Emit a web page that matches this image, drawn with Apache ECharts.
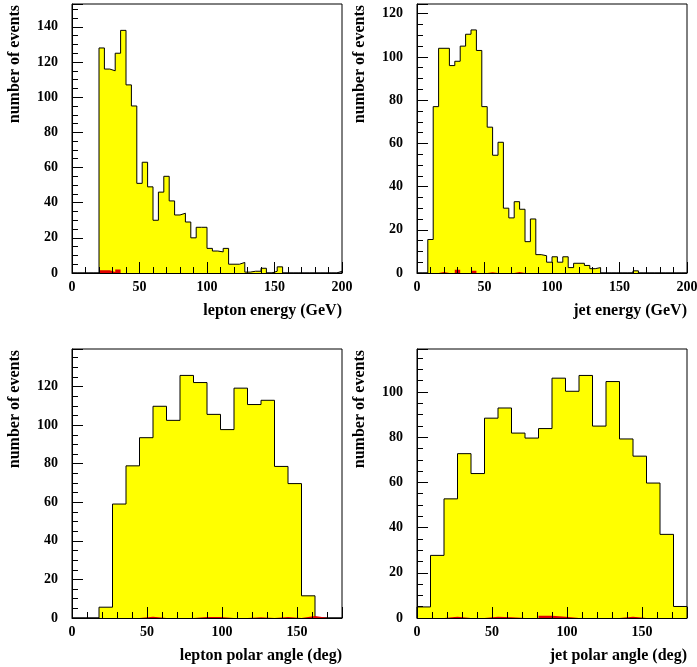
<!DOCTYPE html>
<html><head><meta charset="utf-8">
<script src="https://cdn.jsdelivr.net/npm/echarts@6/dist/echarts.min.js"></script>
<style>html,body{margin:0;padding:0;background:#fff}#c{width:697px;height:667px}</style>
</head><body><div id="c"></div>
<script>
// ---- data ----
const energyBinWidth = 4;   // GeV
const angleBinWidth = 9;    // deg
const energyTicks = [0, 50, 100, 150, 200];
const angleTicks = [0, 50, 100, 150];
const countTicksStep = 20;

const leptonEnergyCounts = [0,0,0,0,0, 128,116,115,125,138, 107,95,51,63,49, 30,46,55,41,33,
  34,29,20,26,26, 14,12.5,12,14,5, 5,6,0.5,1,1, 2.7,0,1,3.5,0, 0,0,0,0,0, 0,0,0,0,1];
const leptonEnergySignal = [0,0,0,0,0, 1.5,1.5,0.5,2,0, 0,0,0,0,0, 0,0,0,0,0,
  0,0,0,0,0, 0,0,0,0,0, 0,0,0,0,0, 0,0,0,0,0, 0,0,0,0,0, 0,0,0,0,0];

const jetEnergyCounts = [0,0,15.5,77,104, 104,96,98,105,110.5, 112.5,103,77,67.5,54.5, 60.5,30,25.5,33,29.5,
  14.5,25,8.5,8,5, 7.5,5,7.5,2.5,4.5, 4.5,3.5,2,2.5,0, 0,0,0,0,0, 1,0,0,0,0, 0,0,0,0,0];
const jetEnergySignal = [0,0,0,0,0.5, 0,0,1.5,0,0, 1,0,0,0.3,0, 0,0,0,0.5,0,
  0,0,0,0,0, 0,0,0,0,0, 0,0,0,0,0, 0,0,0,0,0, 0,0,0,0,0, 0,0,0,0,0];

const leptonAngleCounts = [0,0,5.6,59.1,78.9, 93.5,109.8,102.5,125.8,122.1,
  105.6,97.7,119.2,110.7,112.9, 78.6,69.7,11.5,0,0];
const leptonAngleSignal = [0,0,0,0,0, 0.7,0,0,0,0.5, 0.5,0,0,0.4,0, 0.5,0,1,0,0];

const jetAngleCounts = [4.9,27.7,52.7,72.7,63.9, 88.4,92.9,81.8,79.6,83.8,
  106.1,100.3,107.3,84.9,104.6, 79.2,71.6,59.7,37,5.1];
const jetAngleSignal = [0,0,0.6,0,0, 0.6,0.3,0,0,1, 0.5,0,0,0,0, 0.6,0,0,0,0];

const xTitles = ['lepton energy (GeV)', 'jet energy (GeV)', 'lepton polar angle (deg)', 'jet polar angle (deg)'];
const yTitle = 'number of events';

// ---- layout / styles ----
const FONT = 'Liberation Serif';
const panels = [
  {counts: leptonEnergyCounts, signal: leptonEnergySignal, w: energyBinWidth, xmax: 200, ymax: 153, ticks: energyTicks, left: 72, top: 4},
  {counts: jetEnergyCounts, signal: jetEnergySignal, w: energyBinWidth, xmax: 200, ymax: 124.5, ticks: energyTicks, left: 417, top: 4},
  {counts: leptonAngleCounts, signal: leptonAngleSignal, w: angleBinWidth, xmax: 180, ymax: 139.5, ticks: angleTicks, left: 72, top: 349},
  {counts: jetAngleCounts, signal: jetAngleSignal, w: angleBinWidth, xmax: 180, ymax: 119, ticks: angleTicks, left: 417, top: 349}
];
const GW = 270, GH = 269;

function stepData(counts, w) {
  const pts = [[0, 0], [0, counts[0]]];
  for (let i = 1; i < counts.length; i++) pts.push([i * w, counts[i]]);
  pts.push([counts.length * w, 0]);
  return pts;
}

const grid = [], xAxis = [], yAxis = [], series = [], graphic = [];
const labelStyle = {color: '#000', fontFamily: FONT, fontWeight: 'bold', fontSize: 14};
const titleStyle = {fill: '#000', fontFamily: FONT, fontWeight: 'bold', fontSize: 16, verticalAlign: 'middle', align: 'right'};
panels.forEach((p, i) => {
  grid.push({left: p.left, top: p.top, width: GW, height: GH, show: true, borderColor: '#000', borderWidth: 1,
    backgroundColor: 'transparent', containLabel: false, outerBoundsMode: 'none'});
  xAxis.push({type: 'value', gridIndex: i, min: 0, max: p.xmax, interval: 50, z: 10,
    axisLine: {lineStyle: {color: '#000', width: 1}},
    axisTick: {inside: true, length: 11, lineStyle: {color: '#000', width: 1}},
    splitLine: {show: false},
    axisLabel: Object.assign({margin: 7, formatter: v => (p.ticks.indexOf(v) >= 0 ? String(v) : '')}, labelStyle)});
  yAxis.push({type: 'value', gridIndex: i, min: 0, max: p.ymax, interval: countTicksStep, z: 10,
    axisLine: {lineStyle: {color: '#000', width: 1}},
    axisTick: {inside: true, length: 11, lineStyle: {color: '#000', width: 1}},
    splitLine: {show: false},
    axisLabel: Object.assign({margin: 14, formatter: v => (v % countTicksStep === 0 ? String(v) : '')}, labelStyle)});
  series.push({type: 'line', xAxisIndex: i, yAxisIndex: i, step: 'end', data: stepData(p.counts, p.w),
    symbol: 'none', showSymbol: false, animation: false, z: 2,
    lineStyle: {color: '#000', width: 1}, areaStyle: {color: '#ffff00', opacity: 1}});
  series.push({type: 'line', xAxisIndex: i, yAxisIndex: i, step: 'end', data: stepData(p.signal, p.w),
    symbol: 'none', showSymbol: false, animation: false, z: 3,
    lineStyle: {width: 0, color: '#cc0000'}, areaStyle: {color: '#e00000', opacity: 1}});
  graphic.push({type: 'text', x: p.left + GW, y: p.top + GH + 38,
    style: Object.assign({text: xTitles[i]}, titleStyle)});
  graphic.push({type: 'text', x: p.left - 57, y: p.top + 1, rotation: Math.PI / 2,
    style: Object.assign({text: yTitle}, titleStyle)});
});
// minor-tick grids (overlaid on the same rectangles)
panels.forEach((p, i) => {
  const gi = panels.length + i;
  grid.push({left: p.left, top: p.top, width: GW, height: GH, show: false, containLabel: false, outerBoundsMode: 'none'});
  xAxis.push({type: 'value', gridIndex: gi, min: 0, max: p.xmax, interval: 10, z: 10,
    axisLine: {show: false}, axisLabel: {show: false}, splitLine: {show: false},
    axisTick: {inside: true, length: 6, lineStyle: {color: '#000', width: 1}}});
  yAxis.push({type: 'value', gridIndex: gi, min: 0, max: p.ymax, interval: 5, z: 10,
    axisLine: {show: false}, axisLabel: {show: false}, splitLine: {show: false},
    axisTick: {inside: true, length: 6, lineStyle: {color: '#000', width: 1}}});
});

const chart = echarts.init(document.getElementById('c'), null, {renderer: 'canvas'});
chart.setOption({animation: false, backgroundColor: '#fff', grid, xAxis, yAxis, series, graphic});
</script>
</body></html>
